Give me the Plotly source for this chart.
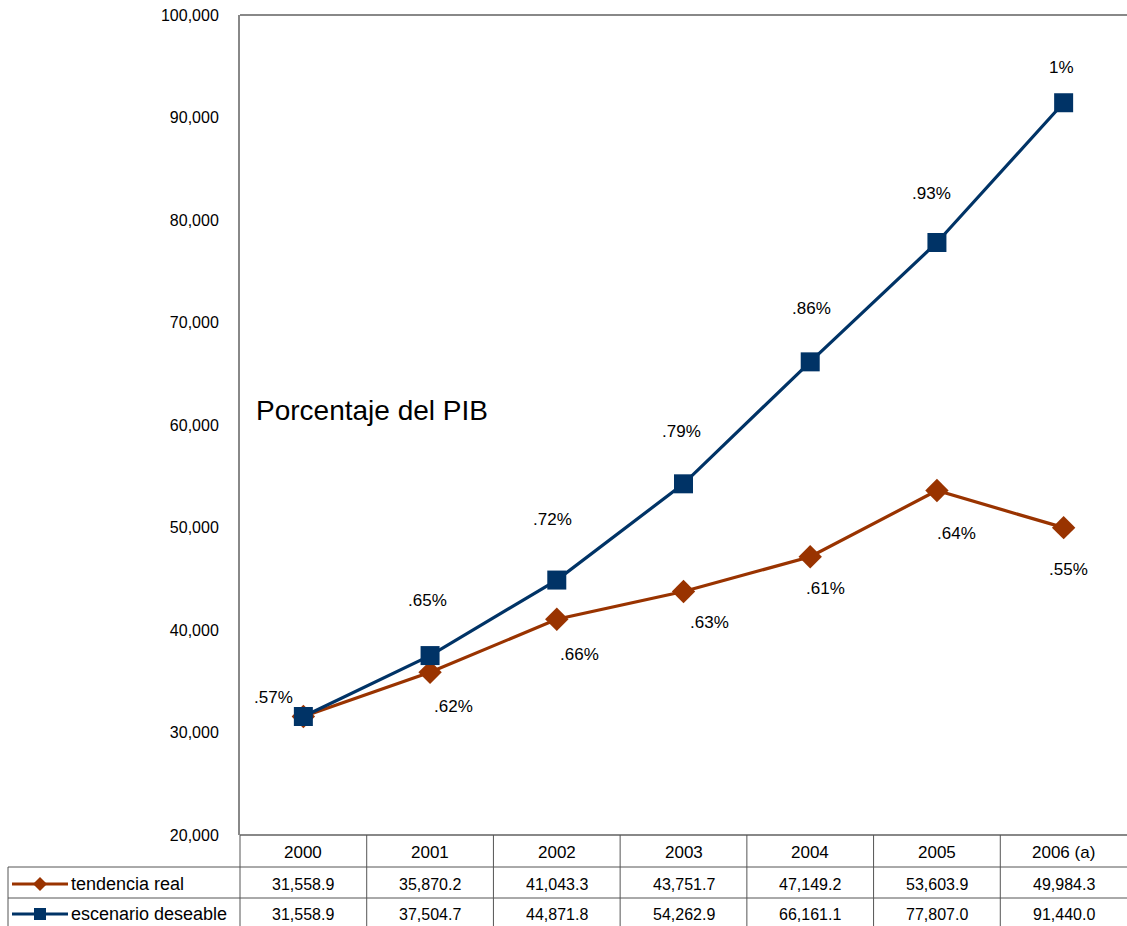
import plotly.graph_objects as go

years = ["2000", "2001", "2002", "2003", "2004", "2005", "2006 (a)"]
real = [31558.9, 35870.2, 41043.3, 43751.7, 47149.2, 53603.9, 49984.3]
deseable = [31558.9, 37504.7, 44871.8, 54262.9, 66161.1, 77807.0, 91440.0]
real_txt = ["31,558.9", "35,870.2", "41,043.3", "43,751.7", "47,149.2", "53,603.9", "49,984.3"]
des_txt = ["31,558.9", "37,504.7", "44,871.8", "54,262.9", "66,161.1", "77,807.0", "91,440.0"]
pct_des = [".57%", ".65%", ".72%", ".79%", ".86%", ".93%", "1%"]
pct_real = [None, ".62%", ".66%", ".63%", ".61%", ".64%", ".55%"]
series_names = ["tendencia real", "escenario deseable"]

RED = "#993300"
BLUE = "#003366"
FONT = "Liberation Sans, Arial, sans-serif"

W, H = 1127, 926
L, R, T, B = 240, 0, 15, 91
PW = W - L - R
PH = H - T - B

def px(x):
    return (x - L) / PW

def py(y):
    return (H - B - y) / PH

xi = list(range(len(years)))

fig = go.Figure()
fig.add_trace(go.Scatter(x=xi, y=real, mode="lines+markers", name=series_names[0],
                         line=dict(color=RED, width=3.2),
                         marker=dict(symbol="diamond", size=18, color=RED)))
fig.add_trace(go.Scatter(x=xi, y=deseable, mode="lines+markers", name=series_names[1],
                         line=dict(color=BLUE, width=3.2),
                         marker=dict(symbol="square", size=19, color=BLUE)))

ann = []
shapes = []

# percentage labels
des_off = [(-30, 19), (-3, 55), (-4, 61), (-2, 52), (1, 53), (-5, 49), (-2, 35)]
for i, t in enumerate(pct_des):
    dx, dy = des_off[i]
    ann.append(dict(x=i, y=deseable[i], xref="x", yref="y", text=t, showarrow=False,
                    xshift=dx, yshift=dy, xanchor="center", yanchor="middle",
                    font=dict(size=17, color="#000", family=FONT)))
real_off = [None, (23, -34), (23, -35), (26, -31), (15, -32), (20, -43), (5, -42)]
for i, t in enumerate(pct_real):
    if t is None:
        continue
    dx, dy = real_off[i]
    ann.append(dict(x=i, y=real[i], xref="x", yref="y", text=t, showarrow=False,
                    xshift=dx, yshift=dy, xanchor="center", yanchor="middle",
                    font=dict(size=17, color="#000", family=FONT)))

ann.append(dict(x=px(254), y=py(410), xref="paper", yref="paper", text="Porcentaje del PIB",
                showarrow=False, xanchor="left", yanchor="middle",
                font=dict(size=28, color="#000", family=FONT)))

# table text
for i, yr in enumerate(years):
    ann.append(dict(x=i, y=py(852), xref="x", yref="paper", text=yr, showarrow=False,
                    xanchor="center", yanchor="middle",
                    font=dict(size=17, color="#000", family=FONT)))
    ann.append(dict(x=i, y=py(884), xref="x", yref="paper", text=real_txt[i], showarrow=False,
                    xanchor="center", yanchor="middle",
                    font=dict(size=16, color="#000", family=FONT)))
    ann.append(dict(x=i, y=py(914), xref="x", yref="paper", text=des_txt[i], showarrow=False,
                    xanchor="center", yanchor="middle",
                    font=dict(size=16, color="#000", family=FONT)))

for name, yy in zip(series_names, [884, 914]):
    ann.append(dict(x=px(69), y=py(yy), xref="paper", yref="paper", text=name, showarrow=False,
                    xanchor="left", yanchor="middle", font=dict(size=18, color="#000", family=FONT)))

LC = "#555555"
# horizontal lines
shapes.append(dict(type="line", xref="paper", yref="paper", x0=px(240), x1=1, y0=py(835), y1=py(835),
                   line=dict(color="#888888", width=2)))
for yy in [867, 898]:
    shapes.append(dict(type="line", xref="paper", yref="paper", x0=px(8), x1=1, y0=py(yy), y1=py(yy),
                       line=dict(color=LC, width=1)))
# vertical lines
shapes.append(dict(type="line", xref="paper", yref="paper", x0=px(8), x1=px(8), y0=py(867), y1=py(926),
                   line=dict(color=LC, width=1)))
shapes.append(dict(type="line", xref="paper", yref="paper", x0=px(240), x1=px(240), y0=py(835), y1=py(926),
                   line=dict(color=LC, width=1)))
for i in range(len(years) - 1):
    shapes.append(dict(type="line", xref="x", yref="paper", x0=i + 0.5, x1=i + 0.5, y0=py(835), y1=py(926),
                       line=dict(color=LC, width=1)))

# legend keys
for col, sym, yy in [(RED, "diamond", 884), (BLUE, "square", 914)]:
    shapes.append(dict(type="line", xref="paper", yref="paper", x0=px(12), x1=px(68), y0=py(yy), y1=py(yy),
                       line=dict(color=col, width=3)))
    cx, cy = 40, yy
    if sym == "diamond":
        path = f"M {px(cx-7)} {py(cy)} L {px(cx)} {py(cy-7)} L {px(cx+7)} {py(cy)} L {px(cx)} {py(cy+7)} Z"
    else:
        path = f"M {px(cx-6)} {py(cy-6)} L {px(cx+6)} {py(cy-6)} L {px(cx+6)} {py(cy+6)} L {px(cx-6)} {py(cy+6)} Z"
    shapes.append(dict(type="path", xref="paper", yref="paper", path=path,
                       fillcolor=col, line=dict(color=col, width=0)))

fig.update_layout(
    width=W, height=H,
    margin=dict(l=L, r=R, t=T, b=B),
    paper_bgcolor="white", plot_bgcolor="white",
    showlegend=False,
    font=dict(family=FONT, size=16, color="#000"),
    annotations=ann, shapes=shapes,
    xaxis=dict(range=[-0.5, len(years) - 0.5], showticklabels=False, showgrid=False,
               zeroline=False, showline=False, ticks=""),
    yaxis=dict(range=[20000, 100000], dtick=10000, tickformat=",", showgrid=False, zeroline=False,
               showline=True, linecolor="#888888", linewidth=2, ticks="", ticklabelstandoff=16,
               tickfont=dict(size=16, color="#000", family=FONT)),
)
# top border
fig.add_shape(type="line", xref="paper", yref="paper", x0=0, x1=1, y0=1, y1=1,
              line=dict(color="#888888", width=2))

fig.write_html("out.html")
